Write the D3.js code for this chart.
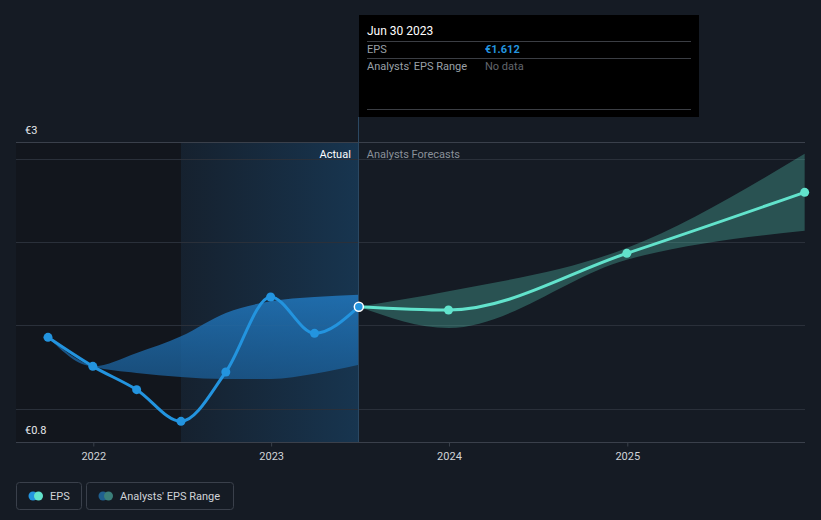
<!DOCTYPE html>
<html><head><meta charset="utf-8">
<script src="https://cdn.jsdelivr.net/npm/d3@7"></script>
<style>
html,body{margin:0;padding:0;background:#151b24;}
svg{display:block;font-family:Roboto,"Open Sans",sans-serif;}
</style></head><body>
<svg id="c" width="821" height="520"></svg>
<script>
// ---- data ----
const epsDates = ["2021-09-30","2021-12-31","2022-03-31","2022-06-30","2022-09-30","2022-12-31","2023-03-31","2023-06-30"];
const epsValues = [1.428,1.254,1.114,0.924,1.22,1.67,1.452,1.612];
const pastRangeDates = ["2021-09-30","2021-12-31","2022-03-31","2022-06-30","2022-09-30","2022-12-31","2023-03-31","2023-06-30"];
const pastRangeLow  = [1.428,1.254,1.214,1.19,1.178,1.178,1.21,1.264];
const pastRangeHigh = [1.428,1.254,1.334,1.434,1.574,1.644,1.67,1.684];
const fcDates = ["2023-06-30","2023-12-31","2024-12-31","2025-12-31"];
const fcValues = [1.612,1.592,1.932,2.298];
const fcLow  = [1.612,1.484,1.894,2.068];
const fcHigh = [1.612,1.704,1.964,2.53];
const gridValues = [1,1.5,2,2.5];
const yTickValues = [2.6,0.8];
const yTickLabels = ["€3","€0.8"];
const xTickYears = [2022,2023,2024,2025];

(function(){
const parse = d3.timeParse("%Y-%m-%d");
const svg = d3.select("#c");
const pL = 16, pR = 805, pT = 142, pB = 442;

// x: 2022-01-01 -> 93.3, 2025-01-01 -> 627.3
const t0 = new Date(2022,0,1).getTime(), t1 = new Date(2025,0,1).getTime();
const a0 = 93.3, a1 = 627.3;
const pxPerMs = (a1-a0)/(t1-t0);
const x = d3.scaleTime()
  .domain([new Date(t0 - (a0-pL)/pxPerMs), new Date(t1 + (pR-a1)/pxPerMs)])
  .range([pL, pR]);
const y = d3.scaleLinear().domain([0.8,2.6]).range([pB, pT]);

const defs = svg.append("defs");
const hg = defs.append("linearGradient").attr("id","hl").attr("x1","0").attr("x2","1").attr("y1","0").attr("y2","0");
hg.append("stop").attr("offset","0").attr("stop-color","#1a4f7e").attr("stop-opacity",0.12);
hg.append("stop").attr("offset","1").attr("stop-color","#1a5585").attr("stop-opacity",0.45);
const bg = defs.append("linearGradient").attr("id","band").attr("x1","0").attr("x2","0").attr("y1","0").attr("y2","1");
bg.append("stop").attr("offset","0").attr("stop-color","#2177bd").attr("stop-opacity",0.85);
bg.append("stop").attr("offset","1").attr("stop-color","#1b5f99").attr("stop-opacity",0.75);

const split = parse("2023-06-30");
const hlStart = parse("2022-06-30");

// regions
svg.append("rect").attr("x",pL).attr("y",pT).attr("width",x(hlStart)-pL).attr("height",pB-pT).attr("fill","#12161d");
svg.append("rect").attr("x",x(hlStart)).attr("y",pT).attr("width",x(split)-x(hlStart)).attr("height",pB-pT).attr("fill","url(#hl)");

// grid
svg.append("line").attr("x1",pL).attr("x2",pR).attr("y1",pT+0.5).attr("y2",pT+0.5).attr("stroke","#3a404b").attr("stroke-width",1);
svg.selectAll(".g").data(gridValues).join("line")
  .attr("x1",pL).attr("x2",pR)
  .attr("y1",d=>Math.round(y(d))+0.5).attr("y2",d=>Math.round(y(d))+0.5)
  .attr("stroke","#2a303a").attr("stroke-width",1);

// past range band
const pr = pastRangeDates.map((d,i)=>({d:parse(d),lo:pastRangeLow[i],hi:pastRangeHigh[i]}));
svg.append("path").datum(pr)
  .attr("d", d3.area().curve(d3.curveMonotoneX).x(d=>x(d.d)).y0(d=>y(d.lo)).y1(d=>y(d.hi)))
  .attr("fill","url(#band)");

// forecast band
const fr = fcDates.map((d,i)=>({d:parse(d),lo:fcLow[i],hi:fcHigh[i]}));
svg.append("path").datum(fr)
  .attr("d", d3.area().curve(d3.curveMonotoneX).x(d=>x(d.d)).y0(d=>y(d.lo)).y1(d=>y(d.hi)))
  .attr("fill","#5ce1c9").attr("fill-opacity",0.28);

// axis
svg.append("line").attr("x1",pL).attr("x2",pR).attr("y1",pB+0.5).attr("y2",pB+0.5).attr("stroke","#3a404b");
const xa = d3.axisBottom(x).tickValues(xTickYears.map(yr=>new Date(yr,0,1))).tickFormat(d3.timeFormat("%Y")).tickSize(4).tickPadding(6);
const ag = svg.append("g").attr("transform",`translate(0,${pB+0.5})`).call(xa);
ag.select(".domain").remove();
ag.selectAll(".tick line").attr("stroke","#3a404b");
ag.selectAll(".tick text").attr("fill","#d0d3d8").attr("font-size",11).attr("font-family","Roboto,sans-serif");

// y labels
svg.selectAll(".yl").data(yTickValues).join("text")
  .attr("x",25).attr("y",d=> y(d)-8)
  .attr("fill","#e6e8eb").attr("font-size",11)
  .text((d,i)=>yTickLabels[i]);

// divider line
svg.append("line").attr("x1",Math.floor(x(split))+0.5).attr("x2",Math.floor(x(split))+0.5).attr("y1",117).attr("y2",pB)
  .attr("stroke","#2b4862").attr("stroke-width",1);

svg.append("text").attr("x",x(split)-8).attr("y",158).attr("text-anchor","end").attr("fill","#ffffff").attr("font-size",11).text("Actual");
svg.append("text").attr("x",x(split)+8).attr("y",158).attr("fill","#8a9099").attr("font-size",11).text("Analysts Forecasts");

// eps line
const ep = epsDates.map((d,i)=>({d:parse(d),v:epsValues[i]}));
svg.append("path").datum(ep)
  .attr("d", d3.line().curve(d3.curveMonotoneX).x(d=>x(d.d)).y(d=>y(d.v)))
  .attr("fill","none").attr("stroke","#2394df").attr("stroke-width",3);
svg.selectAll(".ep").data(ep.slice(0,-1)).join("circle")
  .attr("cx",d=>x(d.d)).attr("cy",d=>y(d.v)).attr("r",4.5).attr("fill","#2394df");

// forecast line
const fp = fcDates.map((d,i)=>({d:parse(d),v:fcValues[i]}));
svg.append("path").datum(fp)
  .attr("d", d3.line().curve(d3.curveMonotoneX).x(d=>x(d.d)).y(d=>y(d.v)))
  .attr("fill","none").attr("stroke","#62e3cc").attr("stroke-width",3);
svg.selectAll(".fp").data(fp.slice(1)).join("circle")
  .attr("cx",d=>x(d.d)).attr("cy",d=>y(d.v)).attr("r",4.5).attr("fill","#62e3cc");

// highlighted point
svg.append("circle").attr("cx",x(split)).attr("cy",y(epsValues[epsValues.length-1])).attr("r",4.5)
  .attr("fill","#2394df").attr("stroke","#ffffff").attr("stroke-width",1.5);

// tooltip
const tt = svg.append("g");
tt.append("rect").attr("x",359).attr("y",15).attr("width",340).attr("height",102).attr("fill","#000000");
tt.append("text").attr("x",367).attr("y",35).attr("fill","#ffffff").attr("font-size",12).text("Jun 30 2023");
[41,58,109].forEach(yy=>tt.append("line").attr("x1",367).attr("x2",691).attr("y1",yy+0.5).attr("y2",yy+0.5).attr("stroke","#3b3e44"));
tt.append("text").attr("x",367).attr("y",53).attr("fill","#9aa0a8").attr("font-size",11).text("EPS");
tt.append("text").attr("x",485).attr("y",53).attr("fill","#2394df").attr("font-size",11).attr("font-weight","bold").text("€" + d3.format(".3f")(epsValues[epsValues.length-1]));
tt.append("text").attr("x",367).attr("y",70).attr("fill","#9aa0a8").attr("font-size",11).text("Analysts' EPS Range");
tt.append("text").attr("x",485).attr("y",70).attr("fill","#62666d").attr("font-size",11).text("No data");

// legend
const lg = svg.append("g");
lg.append("rect").attr("x",16.5).attr("y",482.5).attr("width",65).attr("height",27).attr("rx",3).attr("fill","none").attr("stroke","#3a404b");
lg.append("circle").attr("cx",33).attr("cy",496).attr("r",4.5).attr("fill","#2394df");
lg.append("circle").attr("cx",38.5).attr("cy",496).attr("r",4.5).attr("fill","#62e3cc");
lg.append("text").attr("x",50).attr("y",500).attr("fill","#d0d3d8").attr("font-size",11).text("EPS");
lg.append("rect").attr("x",86.5).attr("y",482.5).attr("width",147).attr("height",27).attr("rx",3).attr("fill","none").attr("stroke","#3a404b");
lg.append("circle").attr("cx",103).attr("cy",496).attr("r",4.5).attr("fill","#1f5f8f");
lg.append("circle").attr("cx",108.5).attr("cy",496).attr("r",4.5).attr("fill","#3b7f7a");
lg.append("text").attr("x",120).attr("y",500).attr("fill","#d0d3d8").attr("font-size",11).text("Analysts' EPS Range");
})();
</script>
</body></html>
